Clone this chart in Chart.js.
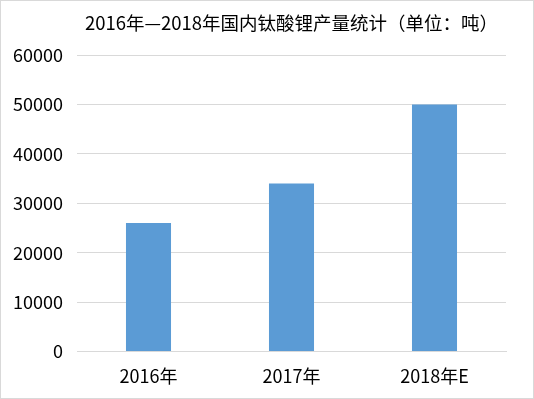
<!DOCTYPE html>
<html><head><meta charset="utf-8">
<script src="https://cdn.jsdelivr.net/npm/chart.js@4"></script>
<style>html,body{margin:0;padding:0;background:#fff}#wrap{width:534px;height:399px;position:relative}</style>
</head><body><div id="wrap"><canvas id="c"></canvas></div>
<script>
const categories = ['2016年', '2017年', '2018年E'];
const production = [26000, 34000, 50000];
const titleText = '2016年—2018年国内钛酸锂产量统计（单位：吨）';
const FONT = '"Noto Sans CJK SC", "Noto Sans", sans-serif';

const borderPlugin = {
  id: 'frame',
  afterDraw(chart) {
    const ctx = chart.ctx;
    ctx.save();
    ctx.strokeStyle = '#d9d9d9';
    ctx.lineWidth = 1;
    ctx.strokeRect(0.5, 0.5, chart.width - 1, chart.height - 1);
    ctx.restore();
  }
};

new Chart(document.getElementById('c'), {
  type: 'bar',
  data: {
    labels: categories,
    datasets: [{
      data: production,
      backgroundColor: '#5B9BD5',
      categoryPercentage: 1,
      barPercentage: 0.315
    }]
  },
  plugins: [borderPlugin],
  options: {
    responsive: true,
    maintainAspectRatio: false,
    animation: false,
    layout: { padding: { left: 0, right: 28, top: 0, bottom: 6 } },
    plugins: {
      legend: { display: false },
      tooltip: { enabled: false },
      title: {
        display: true,
        text: titleText,
        fullSize: false,
        color: '#000',
        font: { family: FONT, size: 18.5, weight: 'normal' },
        padding: { top: 12, bottom: 21 }
      }
    },
    scales: {
      x: {
        grid: { display: false },
        border: { display: true, color: '#d9d9d9' },
        ticks: { color: '#000', font: { family: FONT, size: 18 }, padding: 6 }
      },
      y: {
        min: 0, max: 60000,
        afterFit(scale) { scale.width = 77; },
        grid: { color: '#d9d9d9', drawTicks: false },
        border: { display: false },
        ticks: { stepSize: 10000, color: '#000', font: { family: FONT, size: 18 }, padding: 14,
                 callback: v => String(v) }
      }
    }
  }
});
</script></body></html>
